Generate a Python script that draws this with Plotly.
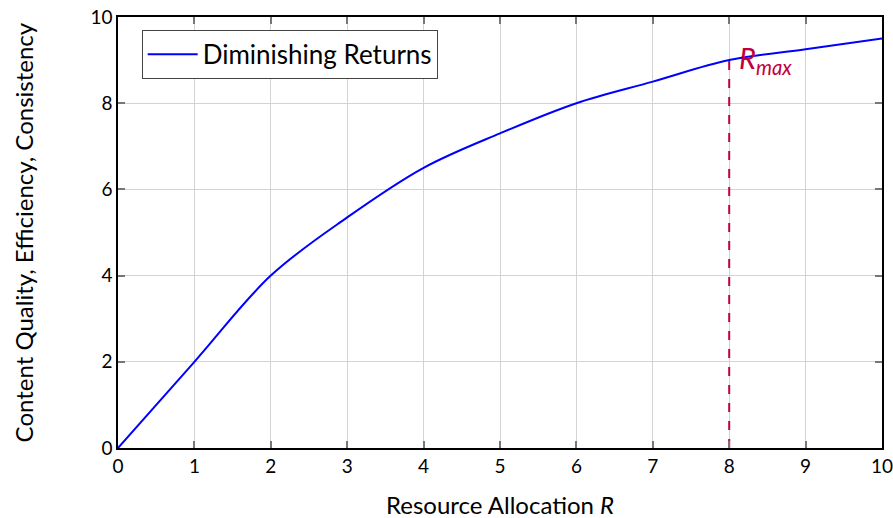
import plotly.graph_objects as go

resource = [0, 1, 2, 3, 4, 5, 6, 7, 8, 9, 10]
quality = [0, 2, 4, 5.35, 6.5, 7.3, 8, 8.5, 9, 9.25, 9.5]
r_max_x = 8
r_max_y = 9
tick_vals = [0, 2, 4, 6, 8, 10]
x_ticks = list(range(0, 11))

purple = "#BF0040"

fig = go.Figure()
fig.add_trace(go.Scatter(
    x=resource, y=quality, mode="lines", name="Diminishing Returns",
    line=dict(color="#0000FF", width=2, shape="spline", smoothing=1.0),
))
fig.add_trace(go.Scatter(
    x=[r_max_x, r_max_x], y=[0, r_max_y], mode="lines", showlegend=False,
    line=dict(color=purple, width=2, dash="dash"),
))
fig.add_annotation(
    x=r_max_x, y=r_max_y, xref="x", yref="y",
    text="<i>R</i><sub><i>max</i></sub>", showarrow=False,
    xanchor="left", yanchor="middle", xshift=8, yshift=1,
    font=dict(family="Lato", size=29, color=purple),
)
# axis titles as annotations for exact placement
fig.add_annotation(
    x=0.5, y=-0.132, xref="paper", yref="paper",
    text="Resource Allocation <i>R</i>", showarrow=False,
    xanchor="center", yanchor="middle",
    font=dict(family="Lato", size=24, color="black"),
)
fig.add_annotation(
    x=-0.1232, y=0.5, xref="paper", yref="paper",
    text="Content Quality, Efficiency, Consistency", showarrow=False,
    textangle=-90, xanchor="center", yanchor="middle",
    font=dict(family="Lato", size=24, color="black"),
)

axis_common = dict(
    showgrid=True, gridcolor="#d3d3d3", gridwidth=1,
    showline=True, linecolor="black", linewidth=1.5, mirror="ticks",
    ticks="inside", ticklen=7, tickcolor="#777777", tickwidth=1.5,
    tickfont=dict(family="Lato", size=19, color="black"),
    zeroline=False, automargin=False, ticklabeloverflow="allow",
)
fig.update_xaxes(range=[0, 10], tickvals=x_ticks, **axis_common)
fig.update_yaxes(range=[0, 10], tickvals=tick_vals, **axis_common)

fig.update_layout(
    width=893, height=518,
    margin=dict(l=118, r=11, t=17, b=70),
    plot_bgcolor="white", paper_bgcolor="white",
    font=dict(family="Lato", color="black"),
    legend=dict(x=0.031, y=0.97, xanchor="left", yanchor="top",
                bordercolor="#444444", borderwidth=1, bgcolor="white",
                itemwidth=50,
                font=dict(family="Lato", size=26, color="black")),
)

fig.write_html(
    "out.html",
    config={"displayModeBar": False},
    post_script="document.body.style.margin='0';document.documentElement.style.overflow='hidden';",
)
